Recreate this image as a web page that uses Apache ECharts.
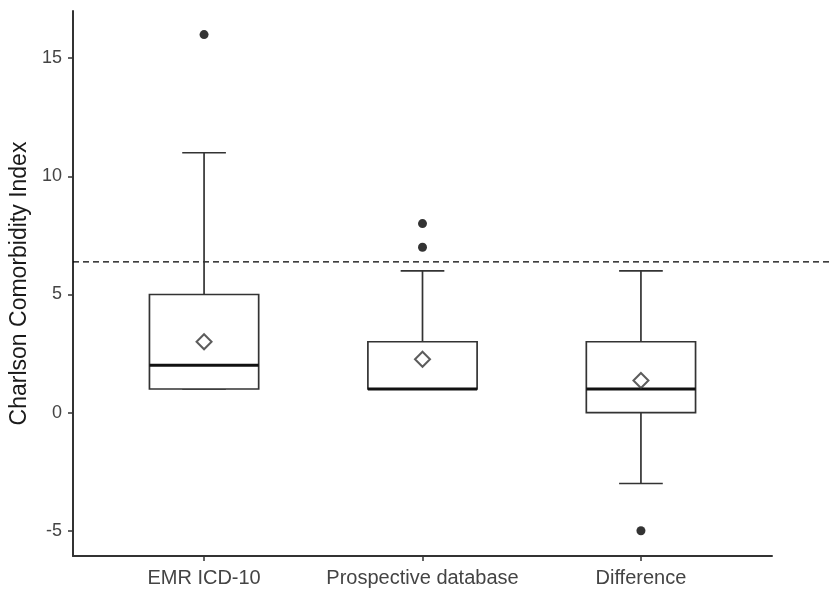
<!DOCTYPE html>
<html>
<head>
<meta charset="utf-8">
<script src="https://cdn.jsdelivr.net/npm/echarts@6/dist/echarts.min.js"></script>
<style>
  html, body { margin: 0; padding: 0; background: #fff; }
  #chart { width: 833px; height: 590px; }
</style>
</head>
<body>
<div id="chart"></div>
<script>
// categories sit at x = 1, 2, 3 (ggplot-style discrete axis with 0.6 expansion)
var categories = ['EMR ICD-10', 'Prospective database', 'Difference'];
var catPos = [1, 2, 3];
var whiskerLow = [1, 1, -3];
var q1 = [1, 1, 0];
var median = [2, 1, 1];
var q3 = [5, 3, 3];
var whiskerHigh = [11, 6, 6];
var means = [3.0, 2.26, 1.36];
// outliers: [category position, value]
var outliers = [[1, 16], [2, 7], [2, 8], [3, -5]];
var refValue = 6.38;
var yTicks = [-5, 0, 5, 10, 15];

var boxWidth = 0.5;   // in x units
var capWidth = 0.2;
var lineColor = '#333';
var labelColor = '#444';
var fontFamily = '"Liberation Sans", Arial, sans-serif';

var boxData = catPos.map(function (x, i) {
  return [x, whiskerLow[i], q1[i], median[i], q3[i], whiskerHigh[i]];
});
var meanData = catPos.map(function (x, i) { return [x, means[i]]; });

var chart = echarts.init(document.getElementById('chart'));

var option = {
  backgroundColor: '#fff',
  animation: false,
  grid: { left: 73, right: 61, top: 11, bottom: 34 },
  xAxis: {
    type: 'value',
    min: 0.4,
    max: 3.6,
    splitLine: { show: false },
    axisLine: { onZero: false, lineStyle: { color: lineColor, width: 2 } },
    axisTick: { customValues: catPos, length: 5, lineStyle: { color: lineColor, width: 1.5 } },
    axisLabel: {
      customValues: catPos,
      margin: 12,
      color: labelColor,
      fontSize: 20,
      fontFamily: fontFamily
      ,formatter: function (v) { return categories[Math.round(v) - 1] || ''; }
    }
  },
  yAxis: {
    type: 'value',
    min: -6.07,
    max: 17.0,
    name: 'Charlson Comorbidity Index',
    nameLocation: 'middle',
    nameGap: 37,
    nameTextStyle: { color: '#1a1a1a', fontSize: 23, fontFamily: fontFamily },
    splitLine: { show: false },
    axisLine: { show: true, onZero: false, lineStyle: { color: lineColor, width: 2 } },
    axisTick: { show: true, customValues: yTicks, length: 5, lineStyle: { color: lineColor, width: 1.5 } },
    axisLabel: {
      customValues: yTicks,
      margin: 11,
      color: labelColor,
      fontSize: 18,
      fontFamily: fontFamily
    }
  },
  series: [
    {
      // reference line (runs past the panel, as in the original)
      type: 'custom',
      silent: true,
      clip: false,
      data: [[refValue]],
      renderItem: function (params, api) {
        var y = api.value(0);
        var p1 = api.coord([0.4, y]);
        var p2 = api.coord([3.9, y]);
        return {
          type: 'line',
          shape: { x1: p1[0], y1: p1[1], x2: p2[0], y2: p2[1] },
          style: { stroke: '#000', lineWidth: 1.3, lineDash: [6, 4] }
        };
      }
    },
    {
      type: 'custom',
      silent: true,
      data: boxData,
      encode: { x: 0, y: [1, 2, 3, 4, 5] },
      renderItem: function (params, api) {
        var x = api.value(0);
        var lo = api.coord([x, api.value(1)]);
        var b1 = api.coord([x, api.value(2)]);
        var md = api.coord([x, api.value(3)]);
        var b3 = api.coord([x, api.value(4)]);
        var hi = api.coord([x, api.value(5)]);
        var half = api.size([boxWidth, 0])[0] / 2;
        var capHalf = api.size([capWidth, 0])[0] / 2;
        var cx = lo[0];
        var st = { stroke: lineColor, lineWidth: 1.7, fill: null };
        return {
          type: 'group',
          children: [
            { type: 'line', shape: { x1: cx, y1: hi[1], x2: cx, y2: b3[1] }, style: st },
            { type: 'line', shape: { x1: cx, y1: b1[1], x2: cx, y2: lo[1] }, style: st },
            { type: 'line', shape: { x1: cx - capHalf, y1: hi[1], x2: cx + capHalf, y2: hi[1] }, style: st },
            { type: 'line', shape: { x1: cx - capHalf, y1: lo[1], x2: cx + capHalf, y2: lo[1] }, style: st },
            {
              type: 'rect',
              shape: { x: cx - half, y: b3[1], width: half * 2, height: b1[1] - b3[1] },
              style: { stroke: lineColor, lineWidth: 1.7, fill: '#fff' }
            },
            {
              type: 'line',
              shape: { x1: cx - half, y1: md[1], x2: cx + half, y2: md[1] },
              style: { stroke: '#111', lineWidth: 3 }
            }
          ]
        };
      }
    },
    {
      type: 'scatter',
      silent: true,
      data: outliers,
      symbol: 'circle',
      symbolSize: 9,
      itemStyle: { color: '#000' }
    },
    {
      type: 'scatter',
      silent: true,
      data: meanData,
      symbol: 'diamond',
      symbolSize: [15, 15],
      itemStyle: { color: '#fff', borderColor: lineColor, borderWidth: 2 },
      z: 5
    }
  ]
};

chart.setOption(option);
</script>
</body>
</html>
